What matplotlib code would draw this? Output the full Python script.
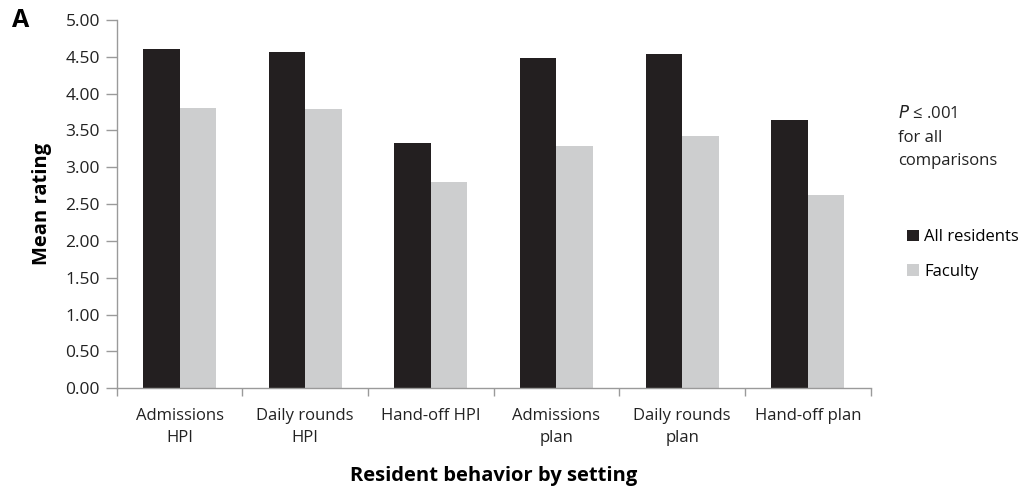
import matplotlib.pyplot as plt
import numpy as np

plt.rcParams['font.family'] = ['Open Sans', 'DejaVu Sans']

categories = ["Admissions\nHPI", "Daily rounds\nHPI", "Hand-off HPI",
              "Admissions\nplan", "Daily rounds\nplan", "Hand-off plan"]
all_residents = [4.61, 4.57, 3.33, 4.49, 4.54, 3.64]
faculty = [3.80, 3.79, 2.80, 3.29, 3.43, 2.62]

dark = "#231f20"
light = "#cdcecf"
axis_col = "#9a9a9a"
txt = "#222222"

fig = plt.figure(figsize=(10.29, 4.86), dpi=100)
ax = fig.add_axes([0.1134, 0.201, 0.7327, 0.758])

x = np.arange(len(categories))
w = 0.29
ax.bar(x - w / 2, all_residents, w, color=dark, label="All residents")
ax.bar(x + w / 2, faculty, w, color=light, label="Faculty")

ax.set_xlim(-0.5, len(categories) - 0.5)
ax.set_ylim(0, 5)
yt = np.arange(0, 5.01, 0.5)
ax.set_yticks(yt)
ax.set_yticklabels([f"{v:.2f}" for v in yt], fontsize=12.5, color=txt)

ax.set_xticks(x)
ax.set_xticklabels(categories, fontsize=12, color=txt, linespacing=1.55)
ax.tick_params(axis='x', length=0, pad=14)
ax.set_xticks(np.arange(-0.5, len(categories)), minor=True)
ax.tick_params(axis='x', which='minor', length=6, color=axis_col, width=1)
ax.tick_params(axis='y', length=8, color=axis_col, width=1, pad=4)

for s in ['top', 'right']:
    ax.spines[s].set_visible(False)
for s in ['left', 'bottom']:
    ax.spines[s].set_color(axis_col)
    ax.spines[s].set_linewidth(1)

ax.set_ylabel("Mean rating", fontsize=14.5, fontweight='bold', labelpad=10)
ax.set_xlabel("Resident behavior by setting", fontsize=14.5, fontweight='bold', labelpad=14)

fig.text(0.012, 0.958, "A", fontsize=18, fontweight='bold', va='center')

fig.text(0.873, 0.717, "$P$ \u2264 .001\nfor all\ncomparisons", fontsize=12,
         va='center', ha='left', linespacing=1.6, color=txt)

ax.legend(loc='upper left', bbox_to_anchor=(1.04, 0.45), frameon=False,
          fontsize=12, handlelength=0.7, handleheight=0.7, handletextpad=0.3,
          labelspacing=1.1, borderaxespad=0)

fig.savefig("out.png", dpi=100)
